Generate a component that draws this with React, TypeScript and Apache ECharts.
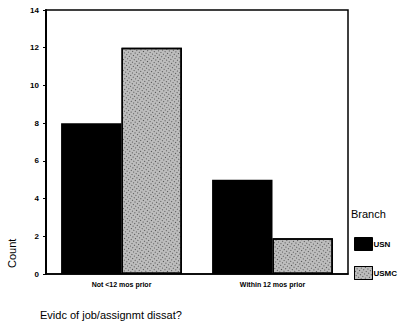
import React, { useEffect, useRef } from "react";
import * as echarts from "echarts";

const categories = ["Not <12 mos prior", "Within 12 mos prior"];
const usnValues = [8, 5];
const usmcValues = [12, 1.9];
const seriesNames = ["USN", "USMC"];
const yTicks = [0, 2, 4, 6, 8, 10, 12, 14];

export default function App() {
  const ref = useRef<HTMLDivElement>(null);
  useEffect(() => {
    const chart = echarts.init(ref.current!, null, { renderer: "svg" });
    const font = "'Liberation Sans', Arial, sans-serif";
    chart.setOption({
      animation: false,
      backgroundColor: "#ffffff",
      grid: {
        left: 46,
        right: 53,
        top: 10,
        bottom: 50,
        show: true,
        borderColor: "#000",
        borderWidth: 1.5,
        backgroundColor: "transparent",
      },
      legend: {
        orient: "vertical",
        left: 354,
        top: 237,
        icon: "rect",
        itemWidth: 18,
        itemHeight: 13,
        itemGap: 15,
        padding: 0,
        data: seriesNames,
        itemStyle: { borderColor: "#000", borderWidth: 1 },
        textStyle: { fontFamily: font, fontSize: 8, fontWeight: "bold", color: "#000", padding: [0, 0, 0, -4] },
      },
      xAxis: {
        type: "category",
        data: categories,
        axisLine: { lineStyle: { color: "#000", width: 1.5 } },
        axisTick: { alignWithLabel: true, length: 3, lineStyle: { color: "#000" } },
        axisLabel: { fontFamily: font, fontSize: 7, fontWeight: "bold", color: "#000", margin: 7 },
      },
      yAxis: {
        type: "value",
        min: yTicks[0],
        max: yTicks[yTicks.length - 1],
        interval: 2,
        splitLine: { show: false },
        axisLine: { show: true, lineStyle: { color: "#000", width: 2 } },
        axisTick: { show: true, length: 3, lineStyle: { color: "#000" } },
        axisLabel: { fontFamily: font, fontSize: 8, fontWeight: "bold", color: "#000", margin: 7 },
      },
      series: [
        {
          name: seriesNames[0],
          type: "bar",
          data: usnValues,
          barGap: "0%",
          barCategoryGap: "20%",
          itemStyle: { color: "#000", borderColor: "#000", borderWidth: 1.5 },
        },
        {
          name: seriesNames[1],
          type: "bar",
          data: usmcValues,
          barGap: "0%",
          barCategoryGap: "20%",
          itemStyle: {
            color: "#bdbdbd",
            borderColor: "#000",
            borderWidth: 1.5,
            decal: {
              symbol: "rect",
              symbolSize: 1,
              color: "rgba(30,30,30,0.7)",
              dashArrayX: [1, 2],
              dashArrayY: [1, 2],
              rotation: 0.6,
            },
          },
        },
      ],
      graphic: [
        {
          type: "text",
          left: 351,
          top: 208,
          style: { text: "Branch", fontFamily: font, fontSize: 11, fill: "#000" },
        },
        {
          type: "text",
          x: 6,
          y: 268,
          rotation: Math.PI / 2,
          style: { text: "Count", fontFamily: font, fontSize: 11, fill: "#000" },
        },
        {
          type: "text",
          left: 40,
          top: 309,
          style: { text: "Evidc of job/assignmt dissat?", fontFamily: font, fontSize: 11, fill: "#000" },
        },
      ],
    });
    return () => chart.dispose();
  }, []);
  return <div ref={ref} style={{ width: 401, height: 324, position: "absolute", left: 0, top: 0 }} />;
}
